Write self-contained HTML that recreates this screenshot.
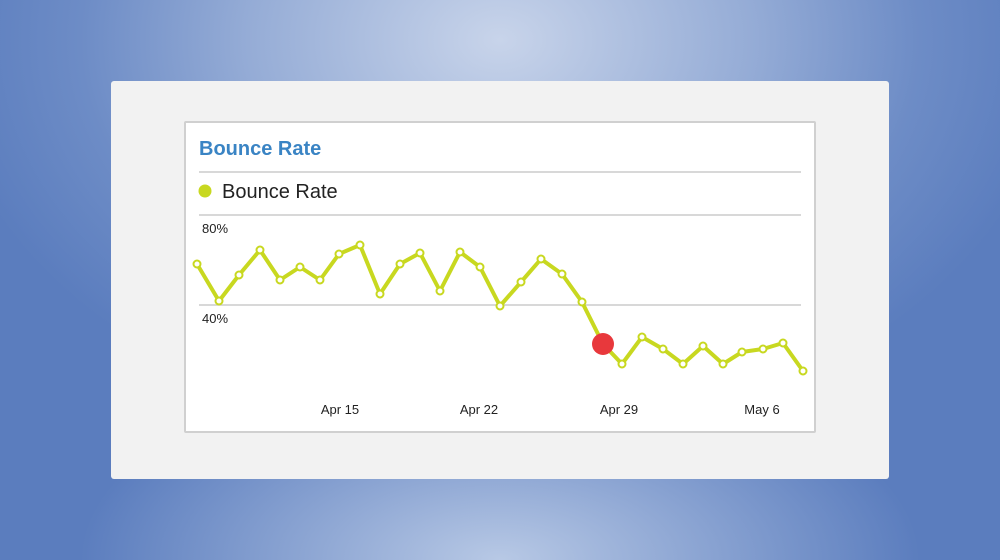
<!DOCTYPE html>
<html><head><meta charset="utf-8"><style>
html,body{margin:0;padding:0}
body{width:1000px;height:560px;overflow:hidden;position:relative;font-family:"Liberation Sans",sans-serif;
background:radial-gradient(ellipse 420px 200px at 500px 560px,rgba(200,214,236,0.85) 0%,rgba(200,214,236,0) 100%),radial-gradient(ellipse 560px 400px at 500px 40px,#c8d4ea 0%,#95acd6 45%,#6d8cc6 75%,#5b7dbe 100%);}
.card{position:absolute;left:111px;top:81px;width:778px;height:398px;background:#f2f2f2;border-radius:3px}
.panel{position:absolute;left:184px;top:121px;width:628px;height:308px;background:#fff;border:2px solid #d0d0d0;border-radius:2px}
svg{position:absolute;left:0;top:0}
</style></head><body>
<div class="card"></div>
<div class="panel"></div>
<svg width="1000" height="560">
<text x="199" y="155" font-family="Liberation Sans" font-weight="bold" font-size="20" fill="#3a84c4">Bounce Rate</text>
<line x1="199" y1="172" x2="801" y2="172" stroke="#ccc" stroke-width="1.5"/>
<circle cx="205" cy="191" r="6.5" fill="#c8d820"/>
<text x="222" y="198" font-size="20" fill="#222">Bounce Rate</text>
<line x1="199" y1="215" x2="801" y2="215" stroke="#ccc" stroke-width="1.5"/>
<line x1="199" y1="305" x2="801" y2="305" stroke="#ccc" stroke-width="1.5"/>
<text x="202" y="233" font-size="13" fill="#222">80%</text>
<text x="202" y="323" font-size="13" fill="#222">40%</text>
<g font-size="13" fill="#222" text-anchor="middle">
<text x="340" y="414">Apr 15</text><text x="479" y="414">Apr 22</text><text x="619" y="414">Apr 29</text><text x="762" y="414">May 6</text></g>
<polyline fill="none" stroke="#c8d820" stroke-width="4" stroke-linejoin="round" points="197,264 219,301 239,275 260,250 280,280 300,267 320,280 339,254 360,245 380,294 400,264 420,253 440,291 460,252 480,267 500,306 521,282 541,259 562,274 582,302 603,344 622,364 642,337 663,349 683,364 703,346 723,364 742,352 763,349 783,343 803,371"/>
<g fill="#fff" stroke="#c8d820" stroke-width="2">
<circle cx="197" cy="264" r="3.5"/><circle cx="219" cy="301" r="3.5"/><circle cx="239" cy="275" r="3.5"/><circle cx="260" cy="250" r="3.5"/><circle cx="280" cy="280" r="3.5"/><circle cx="300" cy="267" r="3.5"/><circle cx="320" cy="280" r="3.5"/><circle cx="339" cy="254" r="3.5"/><circle cx="360" cy="245" r="3.5"/><circle cx="380" cy="294" r="3.5"/><circle cx="400" cy="264" r="3.5"/><circle cx="420" cy="253" r="3.5"/><circle cx="440" cy="291" r="3.5"/><circle cx="460" cy="252" r="3.5"/><circle cx="480" cy="267" r="3.5"/><circle cx="500" cy="306" r="3.5"/><circle cx="521" cy="282" r="3.5"/><circle cx="541" cy="259" r="3.5"/><circle cx="562" cy="274" r="3.5"/><circle cx="582" cy="302" r="3.5"/><circle cx="622" cy="364" r="3.5"/><circle cx="642" cy="337" r="3.5"/><circle cx="663" cy="349" r="3.5"/><circle cx="683" cy="364" r="3.5"/><circle cx="703" cy="346" r="3.5"/><circle cx="723" cy="364" r="3.5"/><circle cx="742" cy="352" r="3.5"/><circle cx="763" cy="349" r="3.5"/><circle cx="783" cy="343" r="3.5"/><circle cx="803" cy="371" r="3.5"/>
</g>
<circle cx="603" cy="344" r="11" fill="#e8383c"/>
</svg>
</body></html>
